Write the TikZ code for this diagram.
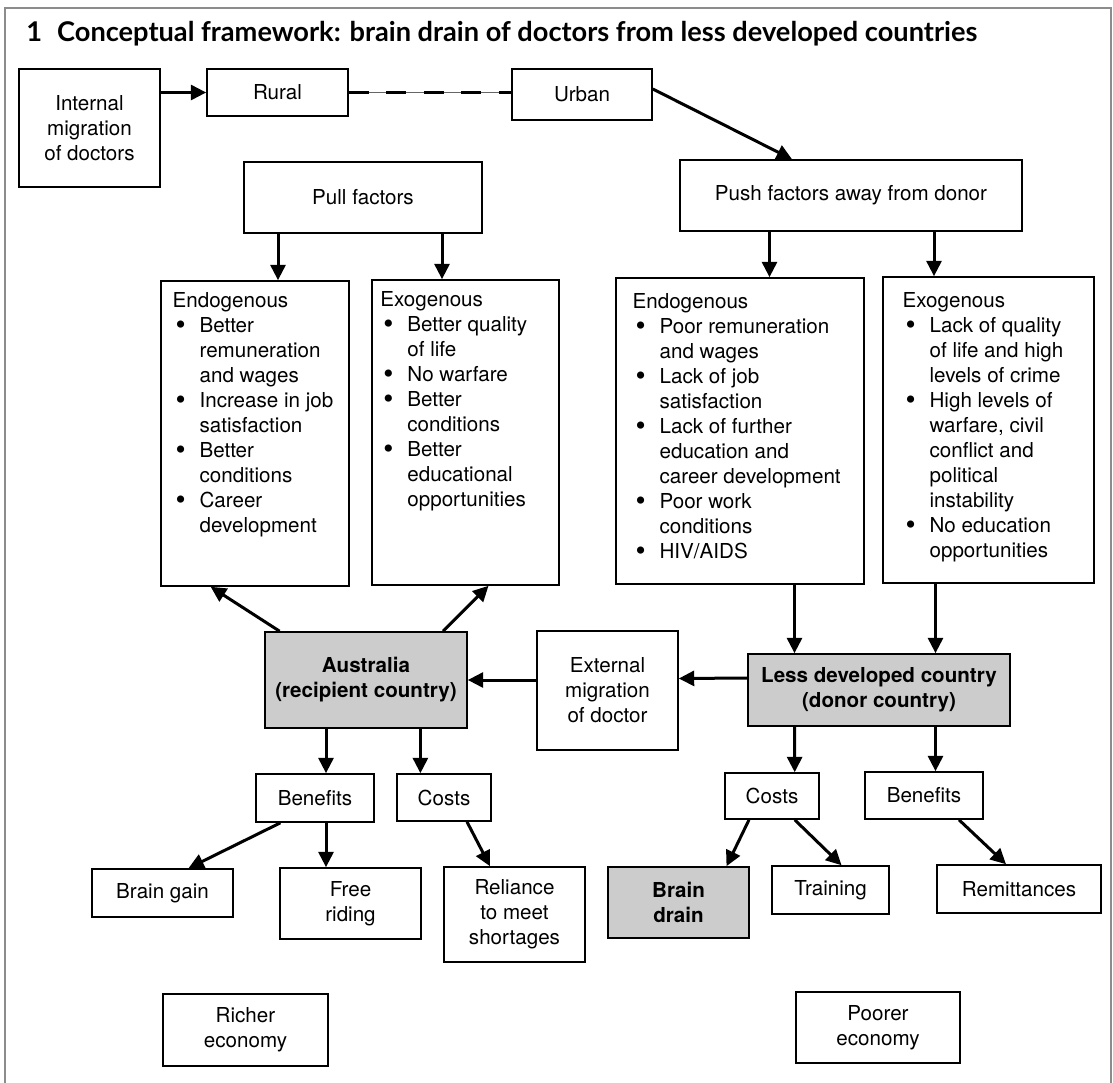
\documentclass[tikz,border=0pt]{standalone}
\usepackage{fontspec}
\usepackage{graphicx}
\setmainfont{TeX Gyre Heros}
\newfontfamily\titlefont{Lato}
\usetikzlibrary{arrows.meta}
\newcommand{\hd}[1]{\multicolumn{2}{@{}l@{}}{#1}}
\newcommand{\bu}{\smash{\raisebox{-0.1em}{\scalebox{1.4}{\textbullet}}}}
\newenvironment{factlist}{\begin{tabular}{@{\hspace{1.5pt}}p{12pt}@{}l@{}}}{\end{tabular}}

\begin{document}
\begin{tikzpicture}[x = 0.5pt, y = -0.5pt,
        txt/.style = {font = \fontsize{10.3}{12.5}\selectfont},
        box/.style = {draw, line width = 0.8pt, inner sep = 0pt, align = center, txt},
        shaded/.style = {box, fill = black!20, font = \fontsize{10.3}{12.5}\selectfont\bfseries},
        arr/.style = {line width = 1.5pt, -{Triangle[length = 7.7pt, width = 7.5pt]}}]
    \useasboundingbox (0, 0) rectangle (1113, 1082);
    \draw [black!45, line width = 1pt] (5, 1100) -- (5, 8) -- (1111, 8) -- (1111, 1100);

    \node [anchor = base west, inner sep = 0pt, font = \titlefont\bfseries\fontsize{13.6}{15}\selectfont] (title)
        at (26, 41.7) {1\hspace{0.55em}Conceptual framework: brain drain of doctors from less developed countries};

    % top row
    \node [box, minimum width = 70.5pt, minimum height = 59pt] (internal) at (89.5, 128) {Internal\\migration\\of doctors};
    \node [box, minimum width = 70.5pt, minimum height = 23.5pt] (rural) at (277.5, 92.5) {Rural};
    \node [box, minimum width = 70pt, minimum height = 25.5pt] (urban) at (582, 94.5) {Urban};
    \node [box, minimum width = 119pt, minimum height = 35.5pt] (pull) at (363, 197.5) {Pull factors};
    \node [box, minimum width = 171pt, minimum height = 35.5pt] (push) at (851, 195.5) {Push factors away from donor};

    % factor boxes
    \node [box, minimum width = 94pt, minimum height = 152.5pt] (pullendo) at (255, 433.5) {};
    \node [box, minimum width = 93.5pt, minimum height = 152.5pt] (pullexo) at (465.5, 432.5) {};
    \node [box, minimum width = 124pt, minimum height = 153pt] (pushendo) at (740, 431) {};
    \node [box, minimum width = 105.5pt, minimum height = 153pt] (pushexo) at (988.5, 430) {};

    \node [txt, anchor = north west, inner sep = 0pt] (pullendotxt) at ([xshift = 6pt, yshift = -4.5pt]pullendo.north west) {%
        \begin{factlist}
            \hd{Endogenous}\\
            \bu & Better\\ & remuneration\\ & and wages\\
            \bu & Increase in job\\ & satisfaction\\
            \bu & Better\\ & conditions\\
            \bu & Career\\ & development
        \end{factlist}};
    \node [txt, anchor = north west, inner sep = 0pt] (pullexotxt) at ([xshift = 4.4pt, yshift = -4.6pt]pullexo.north west) {%
        \begin{factlist}
            \hd{Exogenous}\\
            \bu & Better quality\\ & of life\\
            \bu & No warfare\\
            \bu & Better\\ & conditions\\
            \bu & Better\\ & educational\\ & opportunities
        \end{factlist}};
    \node [txt, anchor = north west, inner sep = 0pt] (pushendotxt) at ([xshift = 8.5pt, yshift = -6.9pt]pushendo.north west) {%
        \begin{factlist}
            \hd{Endogenous}\\
            \bu & Poor remuneration\\ & and wages\\
            \bu & Lack of job\\ & satisfaction\\
            \bu & Lack of further\\ & education and\\ & career development\\
            \bu & Poor work\\ & conditions\\
            \bu & HIV/AIDS
        \end{factlist}};
    \node [txt, anchor = north west, inner sep = 0pt] (pushexotxt) at ([xshift = 10pt, yshift = -6.9pt]pushexo.north west) {%
        \begin{factlist}
            \hd{Exogenous}\\
            \bu & Lack of quality\\ & of life and high\\ & levels of crime\\
            \bu & High levels of\\ & warfare, civil\\ & conflict and\\ & political\\ & instability\\
            \bu & No education\\ & opportunities
        \end{factlist}};

    % countries
    \node [shaded, minimum width = 101pt, minimum height = 48pt] (australia) at (366, 680) {Australia\\(recipient country)};
    \node [box, minimum width = 70.5pt, minimum height = 59.5pt] (external) at (607.5, 690.5) {External\\migration\\of doctor};
    \node [shaded, minimum width = 131pt, minimum height = 36pt] (ldc) at (879, 690) {Less developed country\\(donor country)};

    % benefits and costs
    \node [box, minimum width = 59pt, minimum height = 24pt] (ausben) at (315, 798) {Benefits};
    \node [box, minimum width = 47pt, minimum height = 23.5pt] (auscost) at (444, 797.5) {Costs};
    \node [box, minimum width = 47pt, minimum height = 23pt] (ldccost) at (772, 796) {Costs};
    \node [box, minimum width = 59pt, minimum height = 23.5pt] (ldcben) at (924, 795.5) {Benefits};

    \node [box, minimum width = 70.5pt, minimum height = 24pt] (braingain) at (162.5, 893) {Brain gain};
    \node [box, minimum width = 70.5pt, minimum height = 35.5pt] (freeriding) at (350.5, 903.5) {Free\\riding};
    \node [box, minimum width = 70.5pt, minimum height = 47.5pt] (reliance) at (514.5, 914.5) {Reliance\\to meet\\shortages};
    \node [shaded, minimum width = 70.5pt, minimum height = 35.5pt] (braindrain) at (678.5, 902.5) {Brain\\drain};
    \node [box, minimum width = 58.5pt, minimum height = 24pt] (training) at (830.5, 890) {Training};
    \node [box, minimum width = 82pt, minimum height = 24pt] (remit) at (1019, 889) {Remittances};

    \node [box, minimum width = 82.5pt, minimum height = 36pt] (richer) at (245.5, 1030) {Richer\\economy};
    \node [box, minimum width = 82pt, minimum height = 35.5pt] (poorer) at (878, 1027.5) {Poorer\\economy};

    % connectors
    \draw [arr] (internal.east |- rural.west) -- (rural.west);
    \draw [black!60, line width = 0.4pt] (rural.east) -- (rural.east -| urban.west);
    \draw [line width = 1.5pt, dash pattern = on 10pt off 8.75pt] (rural.east) -- (rural.east -| urban.west);
    \draw [arr] ([yshift = 2.75pt]urban.east) -- ([xshift = -29.5pt]push.north);

    \draw [arr] ([xshift = -42.5pt]pull.south) -- ([xshift = 11.5pt]pullendo.north);
    \draw [arr] ([xshift = 39.5pt]pull.south) -- ([xshift = -11.75pt]pullexo.north);
    \draw [arr] ([xshift = -40.75pt]push.south) -- ([xshift = 14.75pt]pushendo.north);
    \draw [arr] ([xshift = 41.5pt]push.south) -- ([xshift = -27.25pt]pushexo.north);

    \draw [arr] ([xshift = 27.25pt]pushendo.south) -- ([xshift = -42.25pt]ldc.north);
    \draw [arr] ([xshift = -26.5pt]pushexo.south) -- ([xshift = 28.25pt]ldc.north);
    \draw [arr] ([yshift = 6pt]ldc.west) -- ([yshift = 6pt]external.east);
    \draw [arr] (external.west |- australia.east) -- (australia.east);
    \draw [arr] ([xshift = -43.2pt]australia.north) -- ([xshift = -22.15pt]pullendo.south);
    \draw [arr] ([xshift = 38.5pt]australia.north) -- ([xshift = 11.5pt]pullexo.south);

    \draw [arr] ([xshift = -20pt]australia.south) -- ([xshift = 5.5pt]ausben.north);
    \draw [arr] ([xshift = 27.2pt]australia.south) -- ([xshift = -11.8pt]auscost.north);
    \draw [arr] ([xshift = -17.3pt]ausben.south) -- ([xshift = 13pt]braingain.north);
    \draw [arr] ([xshift = 5.5pt]ausben.south) -- ([xshift = -12.25pt]freeriding.north);
    \draw [arr] ([xshift = 11.5pt]auscost.south) -- ([xshift = -12.25pt]reliance.north);

    \draw [arr] ([xshift = -42.25pt]ldc.south) -- ([xshift = 11.35pt]ldccost.north);
    \draw [arr] ([xshift = 28.25pt]ldc.south) -- ([xshift = 5.75pt]ldcben.north);
    \draw [arr] ([xshift = -11.5pt]ldccost.south) -- ([xshift = 24pt]braindrain.north);
    \draw [arr] ([xshift = 11.35pt]ldccost.south) -- ([xshift = 5.5pt]training.north);
    \draw [arr] ([xshift = 17.5pt]ldcben.south) -- ([xshift = -6.5pt]remit.north);
\end{tikzpicture}
\end{document}
